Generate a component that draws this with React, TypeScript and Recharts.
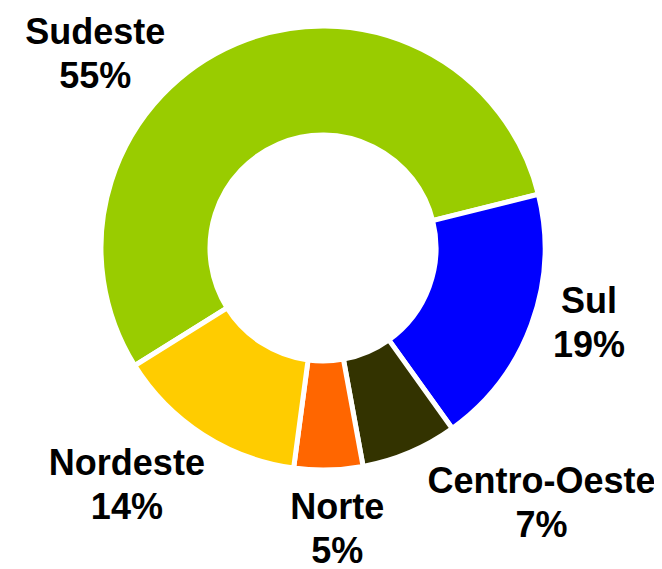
import React from "react";
import { PieChart, Pie, Cell } from "recharts";

const regions = ["Sudeste", "Sul", "Centro-Oeste", "Norte", "Nordeste"];
const shares = [55, 19, 7, 5, 14];
const colors = ["#99CC00", "#0000FF", "#333300", "#FF6600", "#FFCC00"];

// label placement: shift from the slice mid angle (deg) and distance from center (px)
const labelShift = [26.4, 4.7, 17.7, 1.5, -6.9];
const labelDist = [300, 276, 335, 280, 307];

const data = regions.map((name, i) => ({ name, value: shares[i] }));

const RAD = Math.PI / 180;

function renderLabel(props: any) {
  const { cx, cy, midAngle, index } = props;
  const a = (midAngle + labelShift[index]) * RAD;
  const r = labelDist[index];
  const x = cx + r * Math.cos(a);
  const y = cy - r * Math.sin(a);
  return (
    <text
      x={x}
      y={y}
      textAnchor="middle"
      fill="#000"
      fontFamily="'Liberation Sans', Arial, sans-serif"
      fontWeight="bold"
      fontSize={36}
    >
      <tspan x={x} dy={-9}>
        {data[index].name}
      </tspan>
      <tspan x={x} dy={44}>
        {`${data[index].value}%`}
      </tspan>
    </text>
  );
}

export default function App() {
  return (
    <PieChart width={654} height={561} margin={{ top: 0, right: 0, bottom: 0, left: 0 }}>
      <Pie
        data={data}
        dataKey="value"
        nameKey="name"
        cx={315}
        cy={240}
        innerRadius={113}
        outerRadius={222}
        startAngle={212}
        endAngle={-148}
        stroke="#fff"
        strokeWidth={5}
        label={renderLabel}
        labelLine={false}
        isAnimationActive={false}
      >
        {data.map((d, i) => (
          <Cell key={d.name} fill={colors[i]} />
        ))}
      </Pie>
    </PieChart>
  );
}
